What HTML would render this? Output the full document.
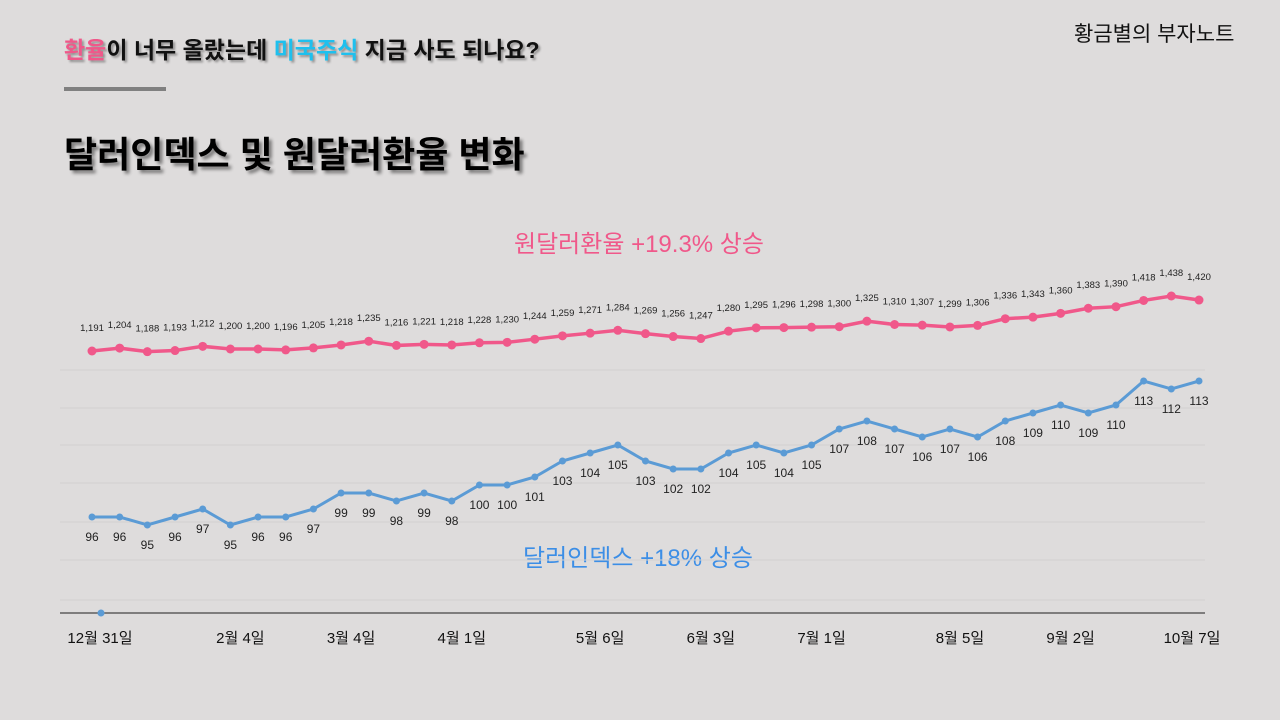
<!DOCTYPE html>
<html><head><meta charset="utf-8"><style>
body{margin:0;width:1280px;height:720px;background:#dedcdc;overflow:hidden;position:relative;font-family:"Liberation Sans","Noto Sans CJK KR",sans-serif}
.t{position:absolute;white-space:nowrap}
</style></head><body>
<div class="t" style="left:64px;top:31px;font-size:23px;font-weight:bold;color:#111;text-shadow:2px 2px 2px rgba(0,0,0,.35)"><span style="color:#f0588a">환율</span>이 너무 올랐는데 <span style="color:#1ec0ee">미국주식</span> 지금 사도 되나요?</div>
<div style="position:absolute;left:64px;top:87px;width:102px;height:4px;background:#808080"></div>
<div class="t" style="left:64px;top:126px;font-size:36px;font-weight:bold;color:#000;text-shadow:3px 3px 3px rgba(0,0,0,.45)">달러인덱스 및 원달러환율 변화</div>
<div class="t" style="left:1074px;top:18px;font-size:21px;color:#111">황금별의 부자노트</div>
<div class="t" style="left:514px;top:224px;font-size:24px;color:#f0588a">원달러환율 +19.3% 상승</div>
<div class="t" style="left:523px;top:538px;font-size:24px;color:#3c8ee6">달러인덱스 +18% 상승</div>
<svg id="c" width="1280" height="720" style="position:absolute;left:0;top:0"></svg>
<script>
const krw=[1191,1204,1188,1193,1212,1200,1200,1196,1205,1218,1235,1216,1221,1218,1228,1230,1244,1259,1271,1284,1269,1256,1247,1280,1295,1296,1298,1300,1325,1310,1307,1299,1306,1336,1343,1360,1383,1390,1418,1438,1420];
const dxy=[96,96,95,96,97,95,96,96,97,99,99,98,99,98,100,100,101,103,104,105,103,102,102,104,105,104,105,107,108,107,106,107,106,108,109,110,109,110,113,112,113];
const xLabels=["12월 31일","2월 4일","3월 4일","4월 1일","5월 6일","6월 3일","7월 1일","8월 5일","9월 2일","10월 7일"];
const xLabelIdx=[0,5,9,13,18,22,26,31,35,40];
const NS="http://www.w3.org/2000/svg",svg=document.getElementById('c');
const X=i=>92+i*(1199-92)/(krw.length-1);
const YK=v=>351-(v-1191)*(55/247);
const YD=v=>517-(v-96)*8;
function mk(t,a){const e=document.createElementNS(NS,t);for(const k in a)e.setAttribute(k,a[k]);svg.appendChild(e);return e;}
[370,408,445,483,522,560,600].forEach(y=>{const g=mk('line',{x1:60,x2:1205,y1:y,y2:y,stroke:'#d3d1d1','stroke-width':1});

});
const ax=mk('line',{x1:60,x2:1205,y1:613,y2:613,stroke:'#444','stroke-width':1.2});


const d0=mk('circle',{cx:101,cy:613,r:3.5,fill:'#5b9bd5'});


function series(vals,Y,color,r,w,name,off,fs,fmt){
 const p=mk('polyline',{points:vals.map((v,i)=>X(i)+','+Y(v)).join(' '),fill:'none',stroke:color,'stroke-width':w});
 
 
 vals.forEach((v,i)=>{
  const c=mk('circle',{cx:X(i),cy:Y(v),r:r,fill:color});
  
  
  const t=mk('text',{x:X(i),y:Y(v)+off,'text-anchor':'middle','font-size':fs,fill:'#222'});
  t.textContent=fmt(v);
  
  
 });
}
series(krw,YK,'#f0588a',4.5,3.5,'krw',-20,9.5,v=>v.toLocaleString('en-US'));
series(dxy,YD,'#5b9bd5',3.5,3,'dxy',24,12,v=>v);
xLabels.forEach((l,k)=>{const t=mk('text',{x:X(xLabelIdx[k])+(k==0?8:k==9?-7:10),y:643,'text-anchor':'middle','font-size':15,fill:'#111'});
t.textContent=l;

});
</script>
</body></html>
